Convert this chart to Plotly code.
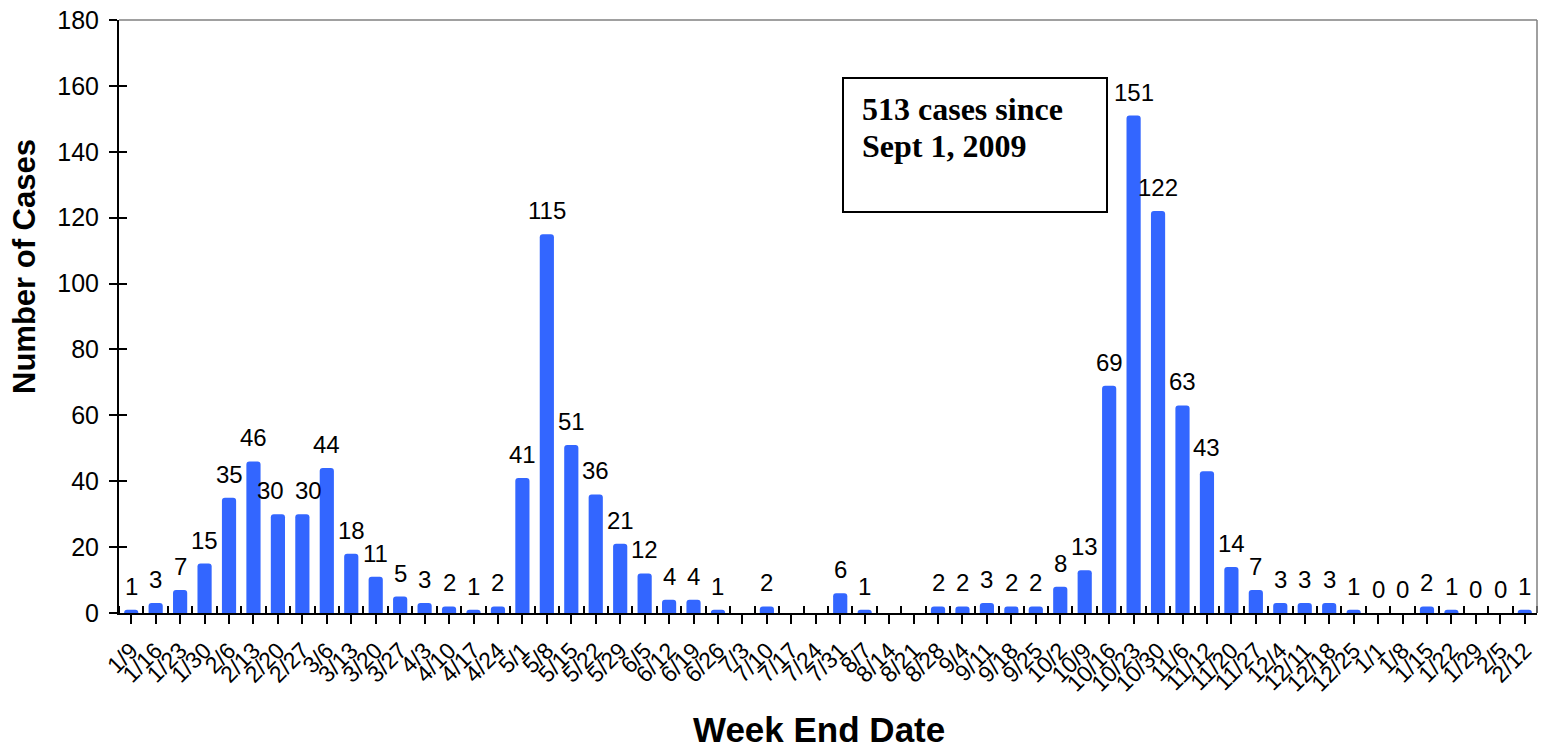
import plotly.graph_objects as go

categories = ["1/9", "1/16", "1/23", "1/30", "2/6", "2/13", "2/20", "2/27", "3/6", "3/13",
              "3/20", "3/27", "4/3", "4/10", "4/17", "4/24", "5/1", "5/8", "5/15", "5/22",
              "5/29", "6/5", "6/12", "6/19", "6/26", "7/3", "7/10", "7/17", "7/24", "7/31",
              "8/7", "8/14", "8/21", "8/28", "9/4", "9/11", "9/18", "9/25", "10/2", "10/9",
              "10/16", "10/23", "10/30", "11/6", "11/12", "11/20", "11/27", "12/4", "12/11", "12/18",
              "12/25", "1/1", "1/8", "1/15", "1/22", "1/29", "2/5", "2/12"]
cases = [1, 3, 7, 15, 35, 46, 30, 30, 44, 18,
         11, 5, 3, 2, 1, 2, 41, 115, 51, 36,
         21, 12, 4, 4, 1, None, 2, None, None, 6,
         1, None, None, 2, 2, 3, 2, 2, 8, 13,
         69, 151, 122, 63, 43, 14, 7, 3, 3, 3,
         1, 0, 0, 2, 1, 0, 0, 1]
y_ticks = [0, 20, 40, 60, 80, 100, 120, 140, 160, 180]
note_lines = ["513 cases since", "Sept 1, 2009"]
x_title = "Week End Date"
y_title = "Number of Cases"

# small horizontal nudges of crowded value labels (style, in pixels)
label_nudge = {6: -7, 7: 6}

xpos = list(range(len(categories)))

W, H = 1546, 752
L, R, T, B = 119, 9, 20, 139
pw, ph = W - L - R, H - T - B

def px_x(p):
    return (p - L) / pw

def px_y(p):
    return (H - B - p) / ph

fig = go.Figure()
fig.add_trace(go.Bar(
    x=xpos, y=[v if v is not None else 0 for v in cases],
    marker=dict(color="#3366FF", line=dict(width=0)),
    width=0.58, hoverinfo="x+y",
))

annotations = []
for xi, v in zip(xpos, cases):
    if v is None:
        continue
    annotations.append(dict(
        x=xi, y=v, xref="x", yref="y", text=str(v), showarrow=False,
        yanchor="bottom", xanchor="center", yshift=8, xshift=label_nudge.get(xi, 0),
        font=dict(family="Liberation Sans, Arial", size=24, color="black"),
    ))

for line_text, ypix in zip(note_lines, [109, 146]):
    annotations.append(dict(
        x=px_x(860), y=px_y(ypix), xref="paper", yref="paper", text=f"<b>{line_text}</b>",
        showarrow=False, xanchor="left", yanchor="middle", align="left",
        font=dict(family="Liberation Serif, Times New Roman", size=32, color="black"),
    ))

annotations.append(dict(
    x=px_x(819), y=px_y(729), xref="paper", yref="paper", text=f"<b>{x_title}</b>",
    showarrow=False, xanchor="center", yanchor="middle",
    font=dict(family="Liberation Sans, Arial", size=35, color="black"),
))
annotations.append(dict(
    x=px_x(24), y=px_y(266), xref="paper", yref="paper", text=f"<b>{y_title}</b>",
    showarrow=False, xanchor="center", yanchor="middle", textangle=-90,
    font=dict(family="Liberation Sans, Arial", size=31, color="black"),
))

shapes = [
    dict(type="rect", xref="paper", yref="paper",
         x0=px_x(843), x1=px_x(1107), y0=px_y(212), y1=px_y(78),
         line=dict(color="black", width=2), fillcolor="white", layer="below"),
    dict(type="line", xref="paper", yref="paper", x0=0, x1=1, y0=1, y1=1,
         line=dict(color="#808080", width=1.5)),
    dict(type="line", xref="paper", yref="paper", x0=1, x1=1, y0=0, y1=1,
         line=dict(color="#808080", width=1.5)),
]

fig.update_layout(
    width=W, height=H,
    margin=dict(l=L, r=R, t=T, b=B),
    paper_bgcolor="white", plot_bgcolor="white",
    showlegend=False,
    barcornerradius=3,
    annotations=annotations,
    shapes=shapes,
    font=dict(family="Liberation Sans, Arial", color="black"),
    xaxis=dict(
        range=[-0.5, len(categories) - 0.5], automargin=False,
        tickmode="array", tickvals=xpos, ticktext=categories,
        tickangle=-45, tickfont=dict(size=23, color="black"),
        ticks="outside", ticklen=9, tickwidth=2, tickcolor="black",
        ticklabelstandoff=4, ticklabeloverflow="allow",
        minor=dict(tickmode="linear", tick0=0.5, dtick=1, ticks="inside",
                   ticklen=7, tickwidth=1.5, tickcolor="black"),
        showline=True, linecolor="black", linewidth=2,
        showgrid=False, zeroline=False,
    ),
    yaxis=dict(
        range=[0, 180], tickmode="array", tickvals=y_ticks, automargin=False,
        tickfont=dict(size=25, color="black"),
        ticks="outside", ticklen=8, tickwidth=2, tickcolor="black",
        ticklabelstandoff=5, ticklabeloverflow="allow",
        showline=True, linecolor="black", linewidth=2,
        showgrid=False, zeroline=False,
    ),
    yaxis2=dict(
        overlaying="y", side="left", anchor="x", automargin=False,
        range=[0, 180], tickmode="array", tickvals=y_ticks,
        showticklabels=False, ticks="inside", ticklen=8, tickwidth=2, tickcolor="black",
        showgrid=False, zeroline=False, showline=False,
    ),
)
fig.add_trace(go.Scatter(x=[None], y=[None], yaxis="y2", showlegend=False, hoverinfo="skip"))

fig.write_html(
    "out.html",
    config={"displayModeBar": False},
    post_script="document.body.style.margin='0px';document.body.style.overflow='hidden';",
)
